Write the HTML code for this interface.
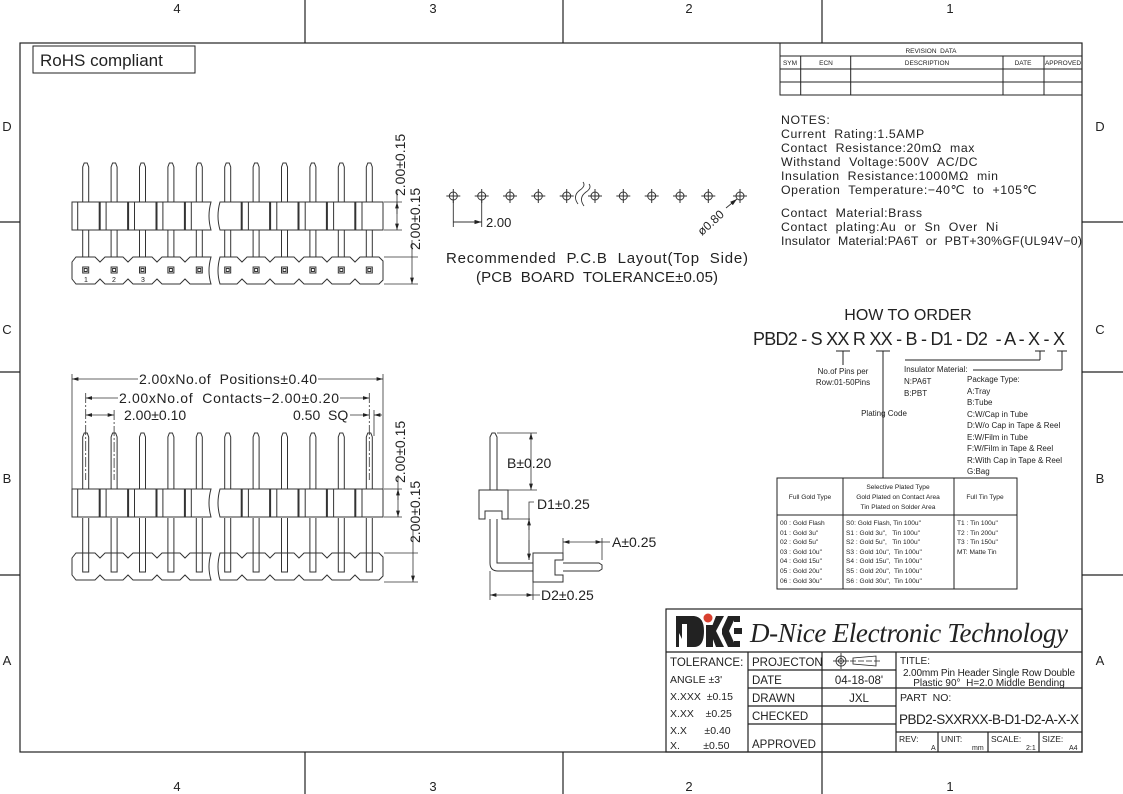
<!DOCTYPE html>
<html><head><meta charset="utf-8"><style>
html,body{margin:0;padding:0;background:#fff}
svg{display:block}
text{font-family:"Liberation Sans",sans-serif;fill:#222;white-space:pre}
.serif{font-family:"Liberation Serif",serif;font-style:italic}
</style></head><body>
<svg width="1123" height="794" viewBox="0 0 1123 794" xmlns="http://www.w3.org/2000/svg" xml:space="preserve">
<defs>
<marker id="ar" viewBox="0 0 10 6" refX="10" refY="3" markerWidth="8" markerHeight="5" orient="auto-start-reverse"><path d="M0,0 L10,3 L0,6 z" fill="#222"/></marker>
<g id="body" fill="none" stroke="#333" stroke-width="1">
<path d="M72,0 L211,0 Q207,14 211,28 L72,28 Z"/>
<path d="M220,0 L383,0 L383,28 L220,28 Q216,14 220,0 Z"/>
<g stroke-width="1">
<line x1="77.7" y1="0" x2="77.7" y2="28"/><line x1="106.1" y1="0" x2="106.1" y2="28"/><line x1="134.5" y1="0" x2="134.5" y2="28"/><line x1="162.9" y1="0" x2="162.9" y2="28"/><line x1="191.3" y1="0" x2="191.3" y2="28"/>
<line x1="248.4" y1="0" x2="248.4" y2="28"/><line x1="276.8" y1="0" x2="276.8" y2="28"/><line x1="305.2" y1="0" x2="305.2" y2="28"/><line x1="333.6" y1="0" x2="333.6" y2="28"/><line x1="362" y1="0" x2="362" y2="28"/>
</g>
<g stroke-width="2">
<line x1="99.7" y1="0" x2="99.7" y2="28"/><line x1="128.1" y1="0" x2="128.1" y2="28"/><line x1="156.5" y1="0" x2="156.5" y2="28"/><line x1="184.9" y1="0" x2="184.9" y2="28"/>
<line x1="241.7" y1="0" x2="241.7" y2="28"/><line x1="270.1" y1="0" x2="270.1" y2="28"/><line x1="298.5" y1="0" x2="298.5" y2="28"/><line x1="326.9" y1="0" x2="326.9" y2="28"/><line x1="355.3" y1="0" x2="355.3" y2="28"/>
</g>
</g>
<g id="lbody" fill="none" stroke="#333" stroke-width="1">
<path d="M72,5 L76,0 L95,0 L100,5 L105,0 L123,0 L128,5 L133,0 L152,0 L157,5 L162,0 L180,0 L185,5 L190,0 L211,0 Q207,14 211,27 L190,27 L185,22 L180,27 L162,27 L157,22 L152,27 L133,27 L128,22 L123,27 L105,27 L100,22 L95,27 L76,27 L72,22 Z"/>
<path d="M220,0 L237,0 L242,5 L247,0 L265,0 L270,5 L275,0 L294,0 L299,5 L304,0 L322,0 L327,5 L332,0 L350,0 L355,5 L360,0 L379,0 L383,4 L383,23 L379,27 L360,27 L355,22 L350,27 L332,27 L327,22 L322,27 L304,27 L299,22 L294,27 L275,27 L270,22 L265,27 L247,27 L242,22 L237,27 L220,27 Q216,14 220,0 Z"/>
</g>
<g id="pinT" fill="none" stroke="#333" stroke-width="1">
<path d="M-3,202 L-3,167 L-1.5,163 L1.5,163 L3,167 L3,202"/>
<line x1="-3" y1="230" x2="-3" y2="257"/><line x1="3" y1="230" x2="3" y2="257"/>
<rect x="-3" y="267" width="6" height="6"/><rect x="-1.5" y="268.5" width="3" height="3"/>
</g>
<g id="pinB" fill="none" stroke="#333" stroke-width="1">
<path d="M-3,489 L-3,437 L-1.5,433 L1.5,433 L3,437 L3,489"/>
<path d="M-3,518 L-3,572 L3,572 L3,518"/>
</g>
<g id="hole" fill="none" stroke="#333" stroke-width="1"><circle cx="0" cy="0" r="4"/><line x1="-7" y1="0" x2="7" y2="0"/><line x1="0" y1="-7" x2="0" y2="7"/></g>
</defs>

<!-- frame -->
<g stroke="#222" stroke-width="1.2" fill="none">
<rect x="20" y="43" width="1062" height="709"/>
<line x1="305" y1="0" x2="305" y2="43"/><line x1="563" y1="0" x2="563" y2="43"/><line x1="822" y1="0" x2="822" y2="43"/>
<line x1="305" y1="752" x2="305" y2="794"/><line x1="563" y1="752" x2="563" y2="794"/><line x1="822" y1="752" x2="822" y2="794"/>
<line x1="0" y1="222" x2="20" y2="222"/><line x1="0" y1="372" x2="20" y2="372"/><line x1="0" y1="575" x2="20" y2="575"/>
<line x1="1082" y1="222" x2="1123" y2="222"/><line x1="1082" y1="372" x2="1123" y2="372"/><line x1="1082" y1="575" x2="1123" y2="575"/>
</g>
<g font-size="13" text-anchor="middle" fill="#333">
<text x="177" y="13">4</text><text x="433" y="13">3</text><text x="689" y="13">2</text><text x="950" y="13">1</text>
<text x="177" y="791">4</text><text x="433" y="791">3</text><text x="689" y="791">2</text><text x="950" y="791">1</text>
<text x="7" y="131">D</text><text x="7" y="334">C</text><text x="7" y="483">B</text><text x="7" y="665">A</text>
<text x="1100" y="131">D</text><text x="1100" y="334">C</text><text x="1100" y="483">B</text><text x="1100" y="665">A</text>
</g>

<!-- RoHS -->
<rect x="33" y="46" width="162" height="27" fill="none" stroke="#222"/>
<text x="40" y="66" font-size="17">RoHS compliant</text>

<!-- top view -->
<use href="#body" transform="translate(0,202)"/>
<use href="#lbody" transform="translate(0,257)"/>
<use href="#pinT" x="85.7"/><use href="#pinT" x="114.1"/><use href="#pinT" x="142.5"/><use href="#pinT" x="170.9"/><use href="#pinT" x="199.3"/>
<use href="#pinT" x="227.7"/><use href="#pinT" x="256.1"/><use href="#pinT" x="284.5"/><use href="#pinT" x="312.9"/><use href="#pinT" x="341.3"/><use href="#pinT" x="369.3"/>
<g font-size="7" fill="#666"><text x="84" y="282">1</text><text x="112" y="282">2</text><text x="141" y="282">3</text></g>
<g stroke="#333" stroke-width="0.8" fill="none">
<line x1="384" y1="202" x2="402" y2="202"/><line x1="384" y1="230" x2="402" y2="230"/>
<line x1="384" y1="257" x2="418" y2="257"/><line x1="384" y1="284" x2="418" y2="284"/>
<line x1="397" y1="190" x2="397" y2="230" marker-end="url(#ar)"/>
<line x1="397" y1="202" x2="397" y2="214" marker-start="url(#ar)"/>
<line x1="412" y1="240" x2="412" y2="284" marker-end="url(#ar)"/>
</g>
<text transform="translate(405,196) rotate(-90)" font-size="14">2.00±0.15</text>
<text transform="translate(420,250) rotate(-90)" font-size="14">2.00±0.15</text>

<!-- PCB layout -->
<use href="#hole" x="453.3" y="196"/><use href="#hole" x="481.7" y="196"/><use href="#hole" x="510" y="196"/><use href="#hole" x="538.3" y="196"/><use href="#hole" x="566.7" y="196"/>
<use href="#hole" x="595" y="196"/><use href="#hole" x="623.3" y="196"/><use href="#hole" x="651.7" y="196"/><use href="#hole" x="680" y="196"/><use href="#hole" x="708.3" y="196"/><use href="#hole" x="740" y="196"/>
<g stroke="#333" fill="none" stroke-width="0.9">
<path d="M578,204 Q572,196 580,190 Q586,186 583,182"/><path d="M584,206 Q578,198 586,192 Q592,188 589,184"/>
<line x1="453.3" y1="200" x2="453.3" y2="227"/><line x1="481.7" y1="200" x2="481.7" y2="227"/>
<line x1="453.3" y1="222" x2="481.7" y2="222" marker-end="url(#ar)"/>
<line x1="737" y1="199" x2="726" y2="208" marker-start="url(#ar)"/>
</g>
<text x="486" y="227" font-size="13">2.00</text>
<text transform="translate(702,236) rotate(-42)" font-size="12">ø0.80</text>
<text x="597" y="263" font-size="15" text-anchor="middle" textLength="302">Recommended  P.C.B  Layout(Top  Side)</text>
<text x="597" y="282" font-size="15" text-anchor="middle" textLength="242">(PCB  BOARD  TOLERANCE±0.05)</text>

<!-- bottom view -->
<use href="#body" transform="translate(0,489)"/>
<use href="#lbody" transform="translate(0,553)"/>
<use href="#pinB" x="85.7"/><use href="#pinB" x="114.1"/><use href="#pinB" x="142.5"/><use href="#pinB" x="170.9"/><use href="#pinB" x="199.3"/>
<use href="#pinB" x="227.7"/><use href="#pinB" x="256.1"/><use href="#pinB" x="284.5"/><use href="#pinB" x="312.9"/><use href="#pinB" x="341.3"/><use href="#pinB" x="369.3"/>
<g stroke="#333" stroke-width="0.8" fill="none">
<line x1="72" y1="374" x2="72" y2="489"/><line x1="383" y1="374" x2="383" y2="489"/>
<line x1="85.7" y1="393" x2="85.7" y2="480" stroke-dasharray="10,2,2,2"/><line x1="114.1" y1="410" x2="114.1" y2="480" stroke-dasharray="10,2,2,2"/><line x1="369.3" y1="393" x2="369.3" y2="480" stroke-dasharray="10,2,2,2"/>
<line x1="374" y1="410" x2="374" y2="436"/>
<line x1="72" y1="379" x2="138" y2="379" marker-start="url(#ar)"/><line x1="318" y1="379" x2="383" y2="379" marker-end="url(#ar)"/>
<line x1="85.7" y1="398" x2="118" y2="398" marker-start="url(#ar)"/><line x1="340" y1="398" x2="369.3" y2="398" marker-end="url(#ar)"/>
<line x1="85.7" y1="415" x2="114.1" y2="415" marker-start="url(#ar)" marker-end="url(#ar)"/>
<line x1="350" y1="415" x2="369.3" y2="415" marker-end="url(#ar)"/>
<line x1="382" y1="415" x2="374" y2="415" marker-end="url(#ar)"/>
<line x1="384" y1="489" x2="402" y2="489"/><line x1="384" y1="517" x2="402" y2="517"/>
<line x1="384" y1="553" x2="418" y2="553"/><line x1="384" y1="582" x2="418" y2="582"/>
<line x1="398" y1="475" x2="398" y2="517" marker-end="url(#ar)"/>
<line x1="398" y1="489" x2="398" y2="500" marker-start="url(#ar)"/>
<line x1="413" y1="530" x2="413" y2="582" marker-end="url(#ar)"/>
</g>
<text x="139" y="384" font-size="14" textLength="178">2.00xNo.of  Positions±0.40</text>
<text x="119" y="403" font-size="14" textLength="220">2.00xNo.of  Contacts−2.00±0.20</text>
<text x="124" y="420" font-size="14">2.00±0.10</text>
<text x="293" y="420" font-size="14">0.50  SQ</text>
<text transform="translate(405,483) rotate(-90)" font-size="14">2.00±0.15</text>
<text transform="translate(420,543) rotate(-90)" font-size="14">2.00±0.15</text>

<!-- side view -->
<g stroke="#333" stroke-width="1" fill="none">
<path d="M490,490 L490,437 L492,433 L495,433 L497,437 L497,490"/>
<path d="M479,490 L508,490 L508,519 L502,519 L502,511 L485,511 L485,519 L479,519 Z"/>
<path d="M490,519 L490,563 Q490,571 498,571 L533,571"/>
<path d="M497,519 L497,563 L533,563"/>
<path d="M533,553 L563,553 L563,560 L555,560 L555,575 L563,575 L563,582 L533,582 Z"/>
<path d="M563,563 L599,563 L602,565 L602,569 L599,571 L563,571"/>
<g stroke-width="0.8">
<line x1="497" y1="433" x2="537" y2="433"/><line x1="508" y1="490" x2="537" y2="490"/>
<line x1="531" y1="433" x2="531" y2="490" marker-start="url(#ar)" marker-end="url(#ar)"/>
<line x1="508" y1="519" x2="530" y2="519"/>
<path d="M529,560 L529,502 L534,502"/><line x1="529" y1="530" x2="529" y2="519" marker-end="url(#ar)"/><line x1="529" y1="540" x2="529" y2="560" marker-end="url(#ar)"/>
<line x1="563" y1="553" x2="563" y2="538"/><line x1="602" y1="560" x2="602" y2="538"/>
<line x1="563" y1="542" x2="602" y2="542" marker-start="url(#ar)" marker-end="url(#ar)"/><line x1="602" y1="542" x2="610" y2="542"/>
<line x1="490" y1="571" x2="490" y2="600"/><line x1="533" y1="582" x2="533" y2="600"/>
<line x1="490" y1="595" x2="533" y2="595" marker-start="url(#ar)" marker-end="url(#ar)"/><line x1="533" y1="595" x2="540" y2="595"/>
</g>
</g>
<text x="507" y="468" font-size="14">B±0.20</text>
<text x="537" y="509" font-size="14">D1±0.25</text>
<text x="612" y="547" font-size="14">A±0.25</text>
<text x="541" y="600" font-size="14">D2±0.25</text>

<!-- revision table -->
<g stroke="#222" stroke-width="1" fill="none">
<rect x="780" y="43" width="302" height="52"/>
<line x1="780" y1="56" x2="1082" y2="56"/><line x1="780" y1="69" x2="1082" y2="69"/><line x1="780" y1="82" x2="1082" y2="82"/>
<line x1="800.7" y1="56" x2="800.7" y2="95"/><line x1="850.7" y1="56" x2="850.7" y2="95"/><line x1="1003" y1="56" x2="1003" y2="95"/><line x1="1044" y1="56" x2="1044" y2="95"/>
</g>
<g font-size="6.5" text-anchor="middle">
<text x="931" y="53">REVISION  DATA</text>
<text x="790" y="65">SYM</text><text x="826" y="65">ECN</text><text x="927" y="65">DESCRIPTION</text><text x="1023" y="65">DATE</text><text x="1063" y="65">APPROVED</text>
</g>

<!-- notes -->
<g font-size="12.3" fill="#333" letter-spacing="0.6">
<text x="781" y="124">NOTES:</text>
<text x="781" y="138">Current  Rating:1.5AMP</text>
<text x="781" y="152">Contact  Resistance:20mΩ  max</text>
<text x="781" y="166">Withstand  Voltage:500V  AC/DC</text>
<text x="781" y="180">Insulation  Resistance:1000MΩ  min</text>
<text x="781" y="194">Operation  Temperature:−40℃  to  +105℃</text>
<text x="781" y="217">Contact  Material:Brass</text>
<text x="781" y="231">Contact  plating:Au  or  Sn  Over  Ni</text>
<text x="781" y="245" textLength="301" letter-spacing="0">Insulator  Material:PA6T  or  PBT+30%GF(UL94V−0)</text>
</g>

<!-- how to order -->
<text x="908" y="320" font-size="16" text-anchor="middle">HOW TO ORDER</text>
<text x="753" y="345" font-size="18" textLength="312">PBD2 - S XX R XX - B - D1 - D2  - A - X - X</text>
<g stroke="#222" stroke-width="1" fill="none">
<line x1="836" y1="351" x2="850" y2="351"/><line x1="843" y1="351" x2="843" y2="365"/>
<line x1="876" y1="351" x2="890" y2="351"/><line x1="883" y1="351" x2="883" y2="478"/>
<line x1="905" y1="360" x2="1040" y2="360"/><line x1="1040" y1="360" x2="1040" y2="351"/><line x1="1035" y1="351" x2="1045" y2="351"/>
<line x1="1057" y1="351" x2="1067" y2="351"/><line x1="1062" y1="351" x2="1062" y2="370"/><line x1="1062" y1="370" x2="973" y2="370"/>
</g>
<g font-size="8" fill="#333">
<text x="843" y="374" text-anchor="middle">No.of Pins per</text>
<text x="843" y="385" text-anchor="middle">Row:01-50Pins</text>
<text x="884" y="416" text-anchor="middle">Plating Code</text>
<text x="904" y="372">Insulator Material:</text>
<text x="904" y="384">N:PA6T</text>
<text x="904" y="396">B:PBT</text>
<text x="967" y="382">Package Type:</text>
<text x="967" y="394">A:Tray</text>
<text x="967" y="405">B:Tube</text>
<text x="967" y="417">C:W/Cap in Tube</text>
<text x="967" y="428">D:W/o Cap in Tape &amp; Reel</text>
<text x="967" y="440">E:W/Film in Tube</text>
<text x="967" y="451">F:W/Film in Tape &amp; Reel</text>
<text x="967" y="463">R:With Cap in Tape &amp; Reel</text>
<text x="967" y="474">G:Bag</text>
</g>

<!-- plating table -->
<g stroke="#222" stroke-width="1" fill="none">
<rect x="777" y="478" width="240" height="111"/>
<line x1="777" y1="515" x2="1017" y2="515"/>
<line x1="843" y1="478" x2="843" y2="589"/><line x1="954" y1="478" x2="954" y2="589"/>
</g>
<g font-size="6.6" fill="#333">
<text x="810" y="499" text-anchor="middle">Full Gold Type</text>
<text x="898" y="489" text-anchor="middle">Selective Plated Type</text>
<text x="898" y="499" text-anchor="middle">Gold Plated on Contact Area</text>
<text x="898" y="509" text-anchor="middle">Tin Plated on Solder Area</text>
<text x="985" y="499" text-anchor="middle">Full Tin Type</text>
<text x="780" y="525">00 : Gold Flash</text><text x="780" y="535">01 : Gold 3u"</text><text x="780" y="544">02 : Gold 5u"</text><text x="780" y="554">03 : Gold 10u"</text><text x="780" y="563">04 : Gold 15u"</text><text x="780" y="573">05 : Gold 20u"</text><text x="780" y="583">06 : Gold 30u"</text>
<text x="846" y="525">S0: Gold Flash, Tin 100u"</text><text x="846" y="535">S1 : Gold 3u",   Tin 100u"</text><text x="846" y="544">S2 : Gold 5u",   Tin 100u"</text><text x="846" y="554">S3 : Gold 10u",  Tin 100u"</text><text x="846" y="563">S4 : Gold 15u",  Tin 100u"</text><text x="846" y="573">S5 : Gold 20u",  Tin 100u"</text><text x="846" y="583">S6 : Gold 30u",  Tin 100u"</text>
<text x="957" y="525">T1 : Tin 100u"</text><text x="957" y="535">T2 : Tin 200u"</text><text x="957" y="544">T3 : Tin 150u"</text><text x="957" y="554">MT: Matte Tin</text>
</g>

<!-- title block -->
<g stroke="#222" stroke-width="1.2" fill="none">
<rect x="666" y="609" width="416" height="143"/>
<line x1="666" y1="652" x2="1082" y2="652"/>
<line x1="748" y1="652" x2="748" y2="752"/><line x1="822" y1="652" x2="822" y2="752"/><line x1="896" y1="652" x2="896" y2="752"/>
<line x1="748" y1="670" x2="896" y2="670"/><line x1="748" y1="688" x2="1082" y2="688"/><line x1="748" y1="706" x2="896" y2="706"/><line x1="748" y1="724" x2="896" y2="724"/>
<line x1="896" y1="732" x2="1082" y2="732"/>
<line x1="938" y1="732" x2="938" y2="752"/><line x1="988" y1="732" x2="988" y2="752"/><line x1="1039" y1="732" x2="1039" y2="752"/>
</g>
<!-- logo -->
<g fill="#222">
<path d="M676,616 L694,616 Q704,617 704,631 Q704,647 694,647 L687,647 L687,624 L682,624 L682,647 L676,647 Z"/>
<path d="M679,633 L686,647 L679,647 Z" fill="#fff"/>
<rect x="706" y="625" width="7" height="22"/>
<path d="M716,616 L724,616 L716,631 L724,647 L716,647 L711,634 L711,629 Z"/>
<path d="M728,616 L736,616 L729,631 L736,647 L728,647 L722,634 L722,629 Z"/>
<rect x="734" y="628" width="8" height="6"/><rect x="734" y="616" width="6" height="6"/><rect x="734" y="641" width="6" height="6"/>
</g>
<circle cx="708" cy="618" r="4.5" fill="#d8402f"/>
<text x="750" y="642" class="serif" font-size="27" textLength="318">D-Nice Electronic Technology</text>
<g font-size="11.5" fill="#333">
<text x="670" y="666">TOLERANCE:</text>
<text x="670" y="683" font-size="10.5">ANGLE ±3'</text>
<text x="670" y="700" font-size="10.5">X.XXX  ±0.15</text>
<text x="670" y="717" font-size="10.5">X.XX    ±0.25</text>
<text x="670" y="734" font-size="10.5">X.X      ±0.40</text>
<text x="670" y="749" font-size="10.5">X.        ±0.50</text>
<text x="752" y="666">PROJECTON</text>
<text x="752" y="684">DATE</text>
<text x="752" y="702">DRAWN</text>
<text x="752" y="720">CHECKED</text>
<text x="752" y="748">APPROVED</text>
<text x="859" y="684" text-anchor="middle">04-18-08'</text>
<text x="859" y="702" text-anchor="middle">JXL</text>
<text x="900" y="664" font-size="10">TITLE:</text>
<text x="989" y="676" font-size="10" text-anchor="middle" textLength="172">2.00mm Pin Header Single Row Double</text>
<text x="989" y="686" font-size="10" text-anchor="middle">Plastic 90°  H=2.0 Middle Bending</text>
<text x="900" y="701" font-size="10.5">PART  NO:</text>
<text x="989" y="724" font-size="13.5" text-anchor="middle" textLength="180">PBD2-SXXRXX-B-D1-D2-A-X-X</text>
<text x="899" y="742" font-size="8.5">REV:</text><text x="931" y="750" font-size="7">A</text>
<text x="941" y="742" font-size="8.5">UNIT:</text><text x="972" y="750" font-size="7">mm</text>
<text x="991" y="742" font-size="8.5">SCALE:</text><text x="1026" y="750" font-size="7">2:1</text>
<text x="1042" y="742" font-size="8.5">SIZE:</text><text x="1069" y="750" font-size="7">A4</text>
</g>
<g stroke="#222" fill="none" stroke-width="0.8">
<circle cx="841" cy="661" r="5"/><circle cx="841" cy="661" r="2.5"/><line x1="833" y1="661" x2="849" y2="661"/><line x1="841" y1="653" x2="841" y2="669"/>
<path d="M853,658 L876,656 L876,666 L853,664 Z"/><line x1="850" y1="661" x2="880" y2="661" stroke-dasharray="6,2"/>
</g>
</svg>
</body></html>
